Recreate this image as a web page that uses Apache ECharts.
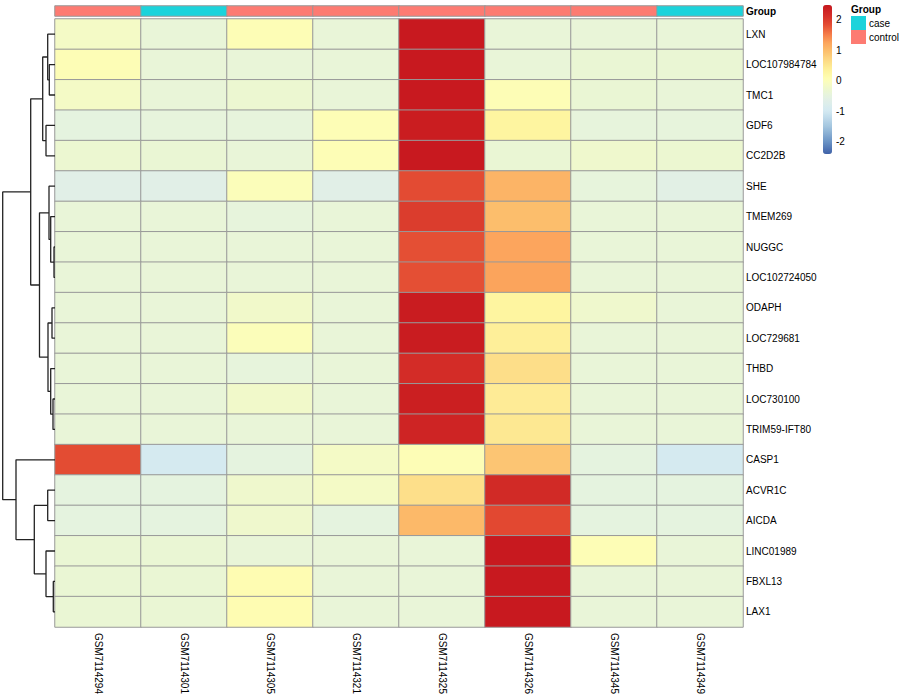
<!DOCTYPE html>
<html>
<head>
<meta charset="utf-8">
<script src="https://cdn.jsdelivr.net/npm/echarts@6/dist/echarts.min.js"></script>
<style>html,body{margin:0;padding:0;background:#fff}#c{width:900px;height:700px}</style>
</head>
<body>
<div id="c"></div>
<script>
// ---- data ----
const samples = ['GSM7114294','GSM7114301','GSM7114305','GSM7114321','GSM7114325','GSM7114326','GSM7114345','GSM7114349'];
const sampleGroup = ['control','case','control','control','control','control','control','case'];
const groupLevels = ['case','control'];
const genes = ['LXN','LOC107984784','TMC1','GDF6','CC2D2B','SHE','TMEM269','NUGGC','LOC102724050','ODAPH','LOC729681','THBD','LOC730100','TRIM59-IFT80','CASP1','ACVR1C','AICDA','LINC01989','FBXL13','LAX1'];
// row-scaled expression (z-score), one row per gene, columns in sample order
const zscores = [
  [-0.15,-0.40, 0.05,-0.40, 2.44,-0.40,-0.40,-0.40],
  [ 0.05,-0.40,-0.40,-0.40, 2.44,-0.40,-0.35,-0.35],
  [-0.15,-0.40,-0.30,-0.40, 2.44, 0.05,-0.35,-0.40],
  [-0.50,-0.45,-0.45, 0.05, 2.38, 0.30,-0.45,-0.45],
  [-0.30,-0.35,-0.40, 0.05, 2.44,-0.35,-0.25,-0.30],
  [-0.65,-0.65, 0.00,-0.65, 1.85, 1.08,-0.45,-0.60],
  [-0.40,-0.40,-0.45,-0.40, 1.99, 0.98,-0.40,-0.40],
  [-0.40,-0.40,-0.40,-0.40, 1.82, 1.24,-0.40,-0.40],
  [-0.40,-0.40,-0.40,-0.40, 1.82, 1.25,-0.40,-0.40],
  [-0.40,-0.40,-0.20,-0.40, 2.40, 0.30,-0.25,-0.40],
  [-0.40,-0.40, 0.00,-0.40, 2.40, 0.39,-0.40,-0.40],
  [-0.40,-0.40,-0.45,-0.40, 2.18, 0.62,-0.40,-0.40],
  [-0.40,-0.40,-0.20,-0.40, 2.36, 0.44,-0.40,-0.40],
  [-0.40,-0.40,-0.40,-0.40, 2.29, 0.49,-0.40,-0.40],
  [ 1.84,-0.95,-0.50,-0.15, 0.05, 0.90,-0.50,-0.95],
  [-0.50,-0.50,-0.25,-0.15, 0.60, 2.22,-0.50,-0.50],
  [-0.50,-0.50,-0.25,-0.50, 1.03, 1.87,-0.50,-0.50],
  [-0.35,-0.35,-0.40,-0.40,-0.40, 2.44, 0.05,-0.40],
  [-0.35,-0.35, 0.10,-0.40,-0.40, 2.44,-0.40,-0.40],
  [-0.35,-0.35, 0.10,-0.40,-0.40, 2.44,-0.40,-0.40]
];
// row dendrogram (hclust style: negative = leaf -(row+1), positive = earlier merge number)
const mergeLeft   = [-2, -1, -4, 2, -8, -7, -6, -10, -13, -12, 8, 7, 4, -19, -18, -16, 16, -15, 13];
const mergeRight  = [-3,  1, -5, 3, -9,  5,  6, -11, -14,   9, 10, 11, 12, -20, 14, -17, 15, 17, 18];
const mergeHeight = [1.14,1.46,1.8,2.46,0.2,0.86,1.2,0.6,0.4,0.86,1.4,3.1,4.86,0.34,1.8,1.46,4.14,7.8,10.46];
// colour scale
const scaleMin = -2.4, scaleMax = 2.48;
const legendTicks = [-2,-1,0,1,2];

// ---- colour ramp ----
const anchors = [
  [-2.4,'#3F62A8'],[-2.0,'#6A93C5'],[-1.5,'#A3C6DF'],[-1.0,'#D3E9F2'],[-0.6,'#E2F0E6'],
  [-0.4,'#E8F5D8'],[-0.15,'#F4FAC6'],[0.05,'#FEFEB6'],[0.3,'#FEF5A0'],[0.6,'#FDE08A'],
  [1.0,'#FCBC6B'],[1.25,'#FCA45C'],[1.5,'#F67F4A'],[1.85,'#E34A32'],[2.1,'#D6322A'],[2.48,'#C6161D']
];
function h2r(h){return [parseInt(h.slice(1,3),16),parseInt(h.slice(3,5),16),parseInt(h.slice(5,7),16)];}
function colAt(v){
  for(let i=0;i<anchors.length-1;i++){
    const a=anchors[i],b=anchors[i+1];
    if(v<=b[0]||i===anchors.length-2){
      const t=Math.max(0,Math.min(1,(v-a[0])/(b[0]-a[0])));
      const ca=h2r(a[1]),cb=h2r(b[1]);
      const c=ca.map((x,k)=>Math.round(x+(cb[k]-x)*t));
      return 'rgb('+c.join(',')+')';
    }
  }
}
const ramp=[];
for(let i=0;i<=97;i++){ramp.push(colAt(scaleMin+(scaleMax-scaleMin)*i/97));}

// ---- series data ----
const heatData=[];
genes.forEach((g,r)=>samples.forEach((s,c)=>heatData.push([c,r,zscores[r][c]])));
const annData=samples.map((s,c)=>[c,0,groupLevels.indexOf(sampleGroup[c])]);

// dendrogram node positions
const nodePos=[];
function pos(id){ return id<0 ? [0,(-id-1)+0.5] : nodePos[id-1]; }
const dendroSeries=[];
for(let k=0;k<mergeHeight.length;k++){
  const a=pos(mergeLeft[k]), b=pos(mergeRight[k]), h=mergeHeight[k];
  nodePos.push([h,(a[1]+b[1])/2]);
  dendroSeries.push({
    type:'line', xAxisIndex:2, yAxisIndex:2, symbol:'none', silent:true, animation:false,
    lineStyle:{color:'#222',width:1.3},
    data:[[a[0],a[1]],[h,a[1]],[h,b[1]],[b[0],b[1]]]
  });
}

const FONT='Liberation Sans, Arial, Helvetica, sans-serif';
const chart=echarts.init(document.getElementById('c'),null,{renderer:'svg'});
chart.setOption({
  animation:false,
  backgroundColor:'#fff',
  textStyle:{fontFamily:FONT},
  title:{text:'Group',left:851,top:4,padding:0,textStyle:{fontSize:10,fontWeight:'bold',color:'#000',fontFamily:FONT}},
  grid:[
    {left:55,top:19,width:688,height:608},
    {left:55,top:6,width:688,height:10},
    {left:2.7,top:19,width:52.3,height:608},
    {left:832,top:5,width:1,height:149}
  ],
  xAxis:[
    {type:'category',gridIndex:0,data:samples,position:'bottom',axisLine:{show:false},axisTick:{show:false},
     axisLabel:{rotate:-90,margin:6,fontSize:10,color:'#000',fontFamily:FONT,interval:0},splitLine:{show:false}},
    {type:'category',gridIndex:1,data:samples,show:false},
    {type:'value',gridIndex:2,min:0,max:mergeHeight[mergeHeight.length-1],inverse:true,show:false},
    {type:'value',gridIndex:3,show:false,min:0,max:1}
  ],
  yAxis:[
    {type:'category',gridIndex:0,data:genes,inverse:true,position:'right',axisLine:{show:false},axisTick:{show:false},
     axisLabel:{margin:3,fontSize:10,color:'#000',fontFamily:FONT,interval:0},splitLine:{show:false}},
    {type:'category',gridIndex:1,data:['Group'],position:'right',axisLine:{show:false},axisTick:{show:false},
     axisLabel:{margin:3,fontSize:10,fontWeight:'bold',color:'#000',fontFamily:FONT}},
    {type:'value',gridIndex:2,min:0,max:genes.length,inverse:true,show:false},
    {type:'value',gridIndex:3,min:scaleMin,max:scaleMax,interval:0.2,position:'right',
     axisLine:{show:false},axisTick:{show:false},splitLine:{show:false},
     axisLabel:{margin:3,fontSize:10,color:'#000',fontFamily:FONT,showMinLabel:true,showMaxLabel:true,
       formatter:function(v){const r=Math.round(v);return (Math.abs(v-r)<1e-6 && legendTicks.indexOf(r)>=0)?String(r):'';}}}
  ],
  visualMap:[
    {type:'continuous',seriesIndex:0,dimension:2,min:scaleMin,max:scaleMax,calculable:false,
     orient:'vertical',left:823,top:5,itemWidth:9,itemHeight:149,padding:0,hoverLink:false,
     inRange:{color:ramp}},
    {type:'piecewise',seriesIndex:1,dimension:2,orient:'vertical',align:'left',inverse:true,left:851,top:16,padding:0,
     itemWidth:15,itemHeight:14,itemGap:0,itemSymbol:'rect',textGap:3,hoverLink:false,selectedMode:false,
     textStyle:{fontSize:10,color:'#000',fontFamily:FONT},
     pieces:[{value:0,label:groupLevels[0],color:'#1CD3DB'},{value:1,label:groupLevels[1],color:'#FD7B72'}]}
  ],
  series:[
    {type:'heatmap',xAxisIndex:0,yAxisIndex:0,data:heatData,silent:true,
     itemStyle:{borderColor:'#999',borderWidth:1},emphasis:{disabled:true}},
    {type:'heatmap',xAxisIndex:1,yAxisIndex:1,data:annData,silent:true,
     itemStyle:{borderColor:'#999',borderWidth:1},emphasis:{disabled:true}}
  ].concat(dendroSeries)
});
</script>
</body>
</html>
